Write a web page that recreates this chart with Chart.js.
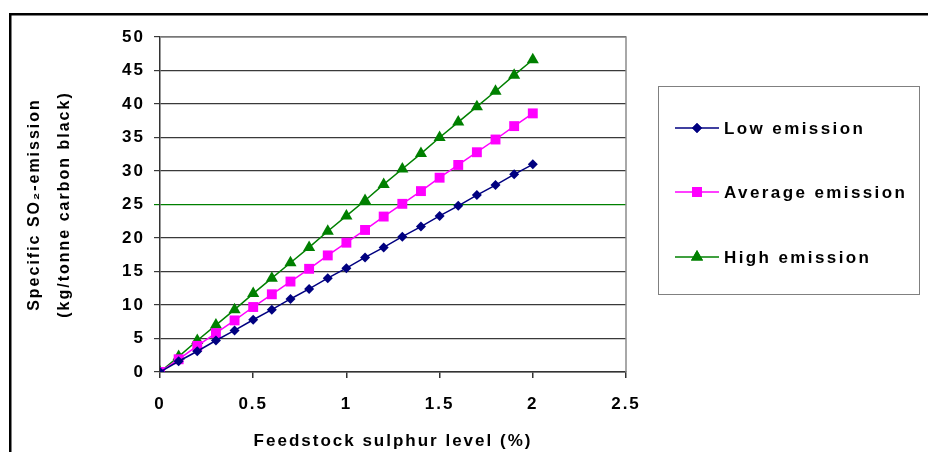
<!DOCTYPE html>
<html>
<head>
<meta charset="utf-8">
<script src="https://cdn.jsdelivr.net/npm/chart.js@4/dist/chart.umd.min.js"></script>
<style>
  html, body { margin: 0; padding: 0; background: #fff; }
  #wrap { width: 928px; height: 452px; position: relative; }
</style>
</head>
<body>
<div id="wrap"><canvas id="emission_chart" width="928" height="452"></canvas></div>
<script>
// data
const sulphurLevel = [0, 0.1, 0.2, 0.3, 0.4, 0.5, 0.6, 0.7, 0.8, 0.9, 1.0, 1.1, 1.2, 1.3, 1.4, 1.5, 1.6, 1.7, 1.8, 1.9, 2.0];
const lowEmission = [0, 1.6, 3.1, 4.7, 6.2, 7.8, 9.3, 10.9, 12.4, 14.0, 15.5, 17.1, 18.6, 20.2, 21.7, 23.3, 24.8, 26.4, 27.9, 29.5, 31.0];
const averageEmission = [0, 1.9, 3.9, 5.8, 7.7, 9.7, 11.6, 13.5, 15.4, 17.4, 19.3, 21.2, 23.2, 25.1, 27.0, 29.0, 30.9, 32.8, 34.7, 36.7, 38.6];
const highEmission = [0, 2.3, 4.7, 7.0, 9.3, 11.7, 14.0, 16.3, 18.6, 21.0, 23.3, 25.6, 28.0, 30.3, 32.6, 35.0, 37.3, 39.6, 41.9, 44.3, 46.6];
const seriesNames = ['Low emission', 'Average emission', 'High emission'];
const xTitle = 'Feedstock sulphur level (%)';
const yTitle = ['Specific SO\u2082-emission', '(kg/tonne carbon black)'];

const FONT = '"Liberation Sans", Arial, sans-serif';

const toPoints = (vals) => sulphurLevel.map((x, i) => ({ x: x, y: vals[i] }));

const seriesStyle = [
  { color: '#000080', shape: 'rectRot', radius: 5 },
  { color: '#FF00FF', shape: 'rect', radius: 7 },
  { color: '#008000', shape: 'triangle', radius: 7 }
];

const frameAndLegend = {
  id: 'frameAndLegend',
  beforeDraw(chart) {
    const ctx = chart.ctx;
    ctx.letterSpacing = '2px';
    ctx.save();
    ctx.fillStyle = '#000';
    ctx.fillRect(9, 13, 928 - 9, 2.5);
    ctx.fillRect(9, 13, 2.5, 452 - 13);
    ctx.restore();
  },
  afterDraw(chart) {
    const ctx = chart.ctx;
    const a = chart.chartArea;
    ctx.save();
    // plot border top / right
    ctx.strokeStyle = '#8c8c8c';
    ctx.lineWidth = 1.5;
    ctx.beginPath();
    ctx.moveTo(a.left, a.top);
    ctx.lineTo(a.right, a.top);
    ctx.lineTo(a.right, a.bottom);
    ctx.stroke();

    // legend box
    ctx.strokeStyle = '#808080';
    ctx.lineWidth = 1;
    ctx.strokeRect(658.5, 86.5, 261, 208);
    const rows = [128, 192, 257];
    chart.data.datasets.forEach((ds, i) => {
      const y = rows[i];
      ctx.strokeStyle = ds.borderColor;
      ctx.lineWidth = 1.5;
      ctx.beginPath();
      ctx.moveTo(675, y);
      ctx.lineTo(719, y);
      ctx.stroke();
      ctx.fillStyle = ds.borderColor;
      Chart.helpers.drawPoint(ctx, {
        pointStyle: ds.pointStyle,
        radius: ds.pointRadius,
        borderWidth: 0,
        rotation: 0
      }, 697, y);
      ctx.fill();
      ctx.fillStyle = '#000';
      ctx.font = 'bold 17px ' + FONT;
      ctx.letterSpacing = '2.4px';
      ctx.textBaseline = 'middle';
      ctx.textAlign = 'left';
      ctx.fillText(ds.label, 724, y + 1);
    });
    ctx.restore();
  }
};

const datasets = [lowEmission, averageEmission, highEmission].map((vals, i) => ({
  label: seriesNames[i],
  data: toPoints(vals),
  borderColor: seriesStyle[i].color,
  backgroundColor: seriesStyle[i].color,
  borderWidth: 1.5,
  pointStyle: seriesStyle[i].shape,
  pointRadius: seriesStyle[i].radius,
  pointHoverRadius: seriesStyle[i].radius,
  pointBorderWidth: 0,
  showLine: true,
  fill: false,
  tension: 0
}));

const emissionChart = new Chart(document.getElementById('emission_chart').getContext('2d'), {
  type: 'scatter',
  data: { datasets: datasets },
  plugins: [frameAndLegend],
  options: {
    responsive: false,
    animation: false,
    devicePixelRatio: 1,
    layout: { padding: { left: 0, top: 37, right: 302, bottom: 0 } },
    plugins: { legend: { display: false }, tooltip: { enabled: false } },
    scales: {
      x: {
        type: 'linear',
        min: 0,
        max: 2.5,
        afterFit: (scale) => { scale.height = 80; },
        border: { color: '#333', width: 1.5 },
        grid: { drawOnChartArea: false, tickLength: 6, color: '#333', lineWidth: 1.5 },
        ticks: {
          stepSize: 0.5,
          padding: 16,
          color: '#000',
          font: { family: FONT, size: 17, weight: 'bold' },
          maxRotation: 0,
          callback: (v) => String(v)
        },
        title: {
          display: true,
          text: xTitle,
          color: '#000',
          font: { family: FONT, size: 17, weight: 'bold' },
          padding: { top: 6, bottom: 0 }
        }
      },
      y: {
        min: 0,
        max: 50,
        afterFit: (scale) => { scale.width = 160; },
        border: { color: '#333', width: 1.5 },
        grid: {
          tickLength: 6,
          lineWidth: 1.2,
          color: (c) => (c.tick && c.tick.value === 25 ? '#008000' : '#3a3a3a')
        },
        ticks: {
          stepSize: 5,
          padding: 9,
          color: '#000',
          font: { family: FONT, size: 17, weight: 'bold' }
        },
        title: {
          display: true,
          text: yTitle,
          color: '#000',
          font: { family: FONT, size: 16, weight: 'bold', lineHeight: 1.85 },
          padding: { top: 20, bottom: 0 }
        }
      }
    }
  }
});
</script>
</body>
</html>
